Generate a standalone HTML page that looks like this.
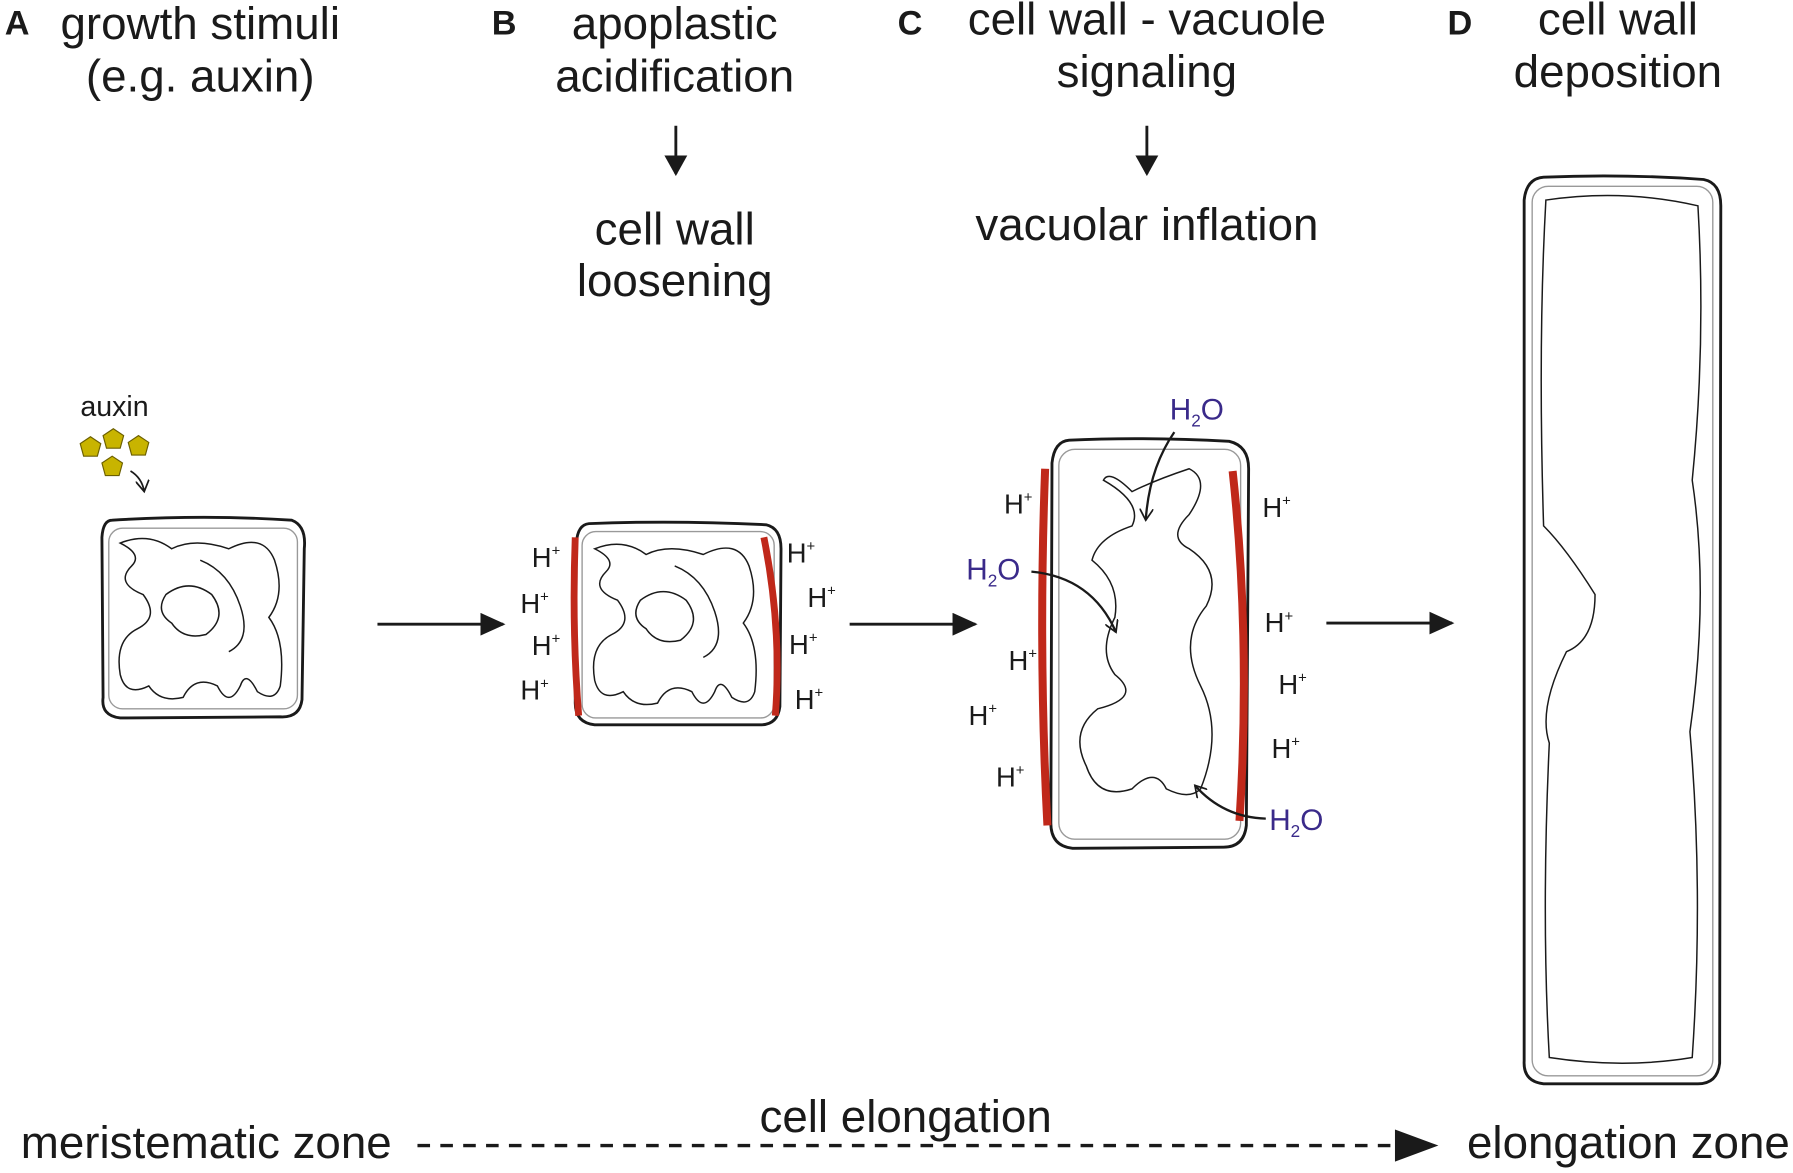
<!DOCTYPE html>
<html><head><meta charset="utf-8"><style>
html,body{margin:0;padding:0;background:#fff;}
svg{display:block;}
text{font-family:"Liberation Sans",sans-serif;fill:#1a1a1a;}
.h{font-size:40px;}
.hp{font-size:24px;}
.sup{font-size:13px;}
.w{fill:#3a2a8a;font-size:26px;}
</style></head><body>
<svg width="1793" height="1173" viewBox="0 0 1568 1026" xmlns="http://www.w3.org/2000/svg">
<defs>
<marker id="ar" markerWidth="18" markerHeight="20" refX="16" refY="10" orient="auto" markerUnits="userSpaceOnUse"><path d="M0,0 L18,10 L0,20 Z" fill="#1a1a1a"/></marker>
<marker id="big" markerWidth="22" markerHeight="20" refX="20" refY="10" orient="auto" markerUnits="userSpaceOnUse"><path d="M0,0 L22,10 L0,20 Z" fill="#1a1a1a"/></marker>
<marker id="sm" markerWidth="12" markerHeight="12" refX="10" refY="6" orient="auto" markerUnits="userSpaceOnUse"><path d="M0,0 L10,6 L0,12" fill="none" stroke="#1a1a1a" stroke-width="1.5"/></marker>
</defs>

<text x="4" y="30" font-weight="bold" style="font-size:30px">A</text>
<text x="175" y="34" class="h" text-anchor="middle">growth stimuli</text>
<text x="175" y="80" class="h" text-anchor="middle">(e.g. auxin)</text>
<text x="430" y="30" font-weight="bold" style="font-size:30px">B</text>
<text x="590" y="34" class="h" text-anchor="middle">apoplastic</text>
<text x="590" y="80" class="h" text-anchor="middle">acidification</text>
<line x1="591" y1="110" x2="591" y2="152" stroke="#1a1a1a" stroke-width="2.5" marker-end="url(#ar)"/>
<text x="590" y="214" class="h" text-anchor="middle">cell wall</text>
<text x="590" y="259" class="h" text-anchor="middle">loosening</text>
<text x="785" y="30" font-weight="bold" style="font-size:30px">C</text>
<text x="1003" y="30" class="h" text-anchor="middle">cell wall - vacuole</text>
<text x="1003" y="76" class="h" text-anchor="middle">signaling</text>
<line x1="1003" y1="110" x2="1003" y2="152" stroke="#1a1a1a" stroke-width="2.5" marker-end="url(#ar)"/>
<text x="1003" y="210" class="h" text-anchor="middle">vacuolar inflation</text>
<text x="1266" y="30" font-weight="bold" style="font-size:30px">D</text>
<text x="1415" y="30" class="h" text-anchor="middle">cell wall</text>
<text x="1415" y="76" class="h" text-anchor="middle">deposition</text>

<text x="100" y="364" text-anchor="middle" style="font-size:25px">auxin</text>
<g fill="#c8b400" stroke="#6b5f00" stroke-width="1">
<polygon points="79,382 88,388 85,399 73,399 70,388"/>
<polygon points="99,375 108,381 105,392 93,392 90,381"/>
<polygon points="121,381 130,387 127,398 115,398 112,387"/>
<polygon points="98,399 107,405 104,416 92,416 89,405"/>
</g>
<path d="M114,412 Q124,418 126,430" fill="none" stroke="#1a1a1a" stroke-width="1.5" marker-end="url(#sm)"/>

<path d="M98,455 Q180,450 255,455 Q268,460 266,480 L264,612 Q262,628 245,627 L105,628 Q88,626 90,610 L89,470 Q90,455 98,455 Z" fill="none" stroke="#1a1a1a" stroke-width="2.5"/>
<rect x="95" y="462" width="165" height="158" rx="12" fill="none" stroke="#999" stroke-width="1.2"/>
<path d="M105,475 Q130,465 150,480 Q170,470 200,480 Q230,465 240,490 Q250,520 235,540 Q250,560 245,600 Q240,615 225,605 Q215,585 210,600 Q200,620 190,600 Q170,590 160,610 Q140,615 130,600 Q110,610 105,590 Q100,560 120,550 Q140,540 125,520 Q100,510 115,495 Q125,485 105,475 Z M145,520 Q165,505 185,520 Q200,540 180,555 Q160,560 150,545 Q135,535 145,520 Z M175,490 Q200,500 210,530 Q220,560 200,570" fill="none" stroke="#1a1a1a" stroke-width="1.3"/>

<line x1="330" y1="546" x2="440" y2="546" stroke="#1a1a1a" stroke-width="2.5" marker-end="url(#big)"/>
<line x1="743" y1="546" x2="853" y2="546" stroke="#1a1a1a" stroke-width="2.5" marker-end="url(#big)"/>
<line x1="1160" y1="545" x2="1270" y2="545" stroke="#1a1a1a" stroke-width="2.5" marker-end="url(#big)"/>

<path d="M515,458 Q590,455 670,459 Q683,462 683,480 L682,618 Q680,634 665,634 L520,634 Q503,632 503,615 L504,475 Q505,459 515,458 Z" fill="none" stroke="#1a1a1a" stroke-width="2.5"/>
<rect x="509" y="465" width="168" height="163" rx="12" fill="none" stroke="#999" stroke-width="1.2"/>
<path d="M503,470 Q500,550 506,626" stroke="#c0281a" stroke-width="6" fill="none"/>
<path d="M668,470 Q684,550 678,626" stroke="#c0281a" stroke-width="6" fill="none"/>
<path d="M520,480 Q545,470 565,485 Q585,475 615,485 Q645,470 655,495 Q665,525 650,545 Q665,565 660,605 Q655,620 640,610 Q630,590 625,605 Q615,625 605,605 Q585,595 575,615 Q555,620 545,605 Q525,615 520,595 Q515,565 535,555 Q555,545 540,525 Q515,515 530,500 Q540,490 520,480 Z M560,525 Q580,510 600,525 Q615,545 595,560 Q575,565 565,550 Q550,540 560,525 Z M590,495 Q615,505 625,535 Q635,565 615,575" fill="none" stroke="#1a1a1a" stroke-width="1.3"/>
<g class="hp">
<text x="465" y="496">H<tspan class="sup" dy="-10">+</tspan></text>
<text x="455" y="536">H<tspan class="sup" dy="-10">+</tspan></text>
<text x="465" y="573">H<tspan class="sup" dy="-10">+</tspan></text>
<text x="455" y="612">H<tspan class="sup" dy="-10">+</tspan></text>
<text x="688" y="492">H<tspan class="sup" dy="-10">+</tspan></text>
<text x="706" y="531">H<tspan class="sup" dy="-10">+</tspan></text>
<text x="690" y="572">H<tspan class="sup" dy="-10">+</tspan></text>
<text x="695" y="620">H<tspan class="sup" dy="-10">+</tspan></text>
</g>

<path d="M935,385 Q1000,382 1075,386 Q1092,390 1092,410 L1090,722 Q1088,741 1070,741 L938,742 Q919,740 919,720 L920,405 Q922,386 935,385 Z" fill="none" stroke="#1a1a1a" stroke-width="2.5"/>
<rect x="926" y="393" width="159" height="341" rx="14" fill="none" stroke="#999" stroke-width="1.2"/>
<path d="M914,410 Q908,570 916,722" stroke="#c0281a" stroke-width="7" fill="none"/>
<path d="M1078,412 Q1094,560 1084,718" stroke="#c0281a" stroke-width="7" fill="none"/>
<path d="M965,420 Q1000,440 990,460 Q960,470 955,490 Q980,510 975,540 Q960,570 975,590 Q1000,610 960,620 Q935,640 950,670 Q960,700 990,690 Q1010,670 1020,690 Q1040,700 1050,690 Q1070,640 1050,600 Q1030,560 1055,530 Q1070,500 1040,480 Q1020,470 1040,450 Q1060,420 1040,410 Q1010,420 990,430 Q970,410 965,420 Z" fill="none" stroke="#1a1a1a" stroke-width="1.3"/>
<g class="hp">
<text x="878" y="449">H<tspan class="sup" dy="-10">+</tspan></text>
<text x="882" y="586">H<tspan class="sup" dy="-10">+</tspan></text>
<text x="847" y="634">H<tspan class="sup" dy="-10">+</tspan></text>
<text x="871" y="688">H<tspan class="sup" dy="-10">+</tspan></text>
<text x="1104" y="452">H<tspan class="sup" dy="-10">+</tspan></text>
<text x="1106" y="553">H<tspan class="sup" dy="-10">+</tspan></text>
<text x="1118" y="607">H<tspan class="sup" dy="-10">+</tspan></text>
<text x="1112" y="663">H<tspan class="sup" dy="-10">+</tspan></text>
</g>
<text x="1023" y="367" class="w">H<tspan dy="6" style="font-size:15px">2</tspan><tspan dy="-6">O</tspan></text>
<text x="845" y="507" class="w">H<tspan dy="6" style="font-size:15px">2</tspan><tspan dy="-6">O</tspan></text>
<text x="1110" y="726" class="w">H<tspan dy="6" style="font-size:15px">2</tspan><tspan dy="-6">O</tspan></text>
<path d="M1027,378 Q1005,410 1002,455" fill="none" stroke="#1a1a1a" stroke-width="2" marker-end="url(#sm)"/>
<path d="M902,500 Q955,505 976,553" fill="none" stroke="#1a1a1a" stroke-width="2" marker-end="url(#sm)"/>
<path d="M1107,716 Q1070,715 1045,687" fill="none" stroke="#1a1a1a" stroke-width="2" marker-end="url(#sm)"/>

<path d="M1350,155 Q1420,152 1490,157 Q1505,160 1505,180 L1504,930 Q1502,948 1485,948 L1350,948 Q1332,946 1333,928 L1333,175 Q1335,156 1350,155 Z" fill="none" stroke="#1a1a1a" stroke-width="2.5"/>
<rect x="1340" y="163" width="158" height="778" rx="14" fill="none" stroke="#999" stroke-width="1.2"/>
<path d="M1352,175 Q1420,165 1485,180 Q1492,300 1480,420 Q1495,520 1478,640 Q1490,780 1480,925 Q1420,935 1355,925 Q1348,800 1355,650 Q1345,620 1370,570 Q1395,560 1395,520 Q1370,480 1350,460 Q1345,300 1352,175 Z" fill="none" stroke="#1a1a1a" stroke-width="1.3"/>

<text x="18" y="1013" class="h">meristematic zone</text>
<text x="792" y="990" class="h" text-anchor="middle">cell elongation</text>
<line x1="365" y1="1002" x2="1235" y2="1002" stroke="#1a1a1a" stroke-width="3" stroke-dasharray="11,9"/>
<path d="M1220,988 L1258,1002 L1220,1016 Z" fill="#1a1a1a"/>
<text x="1283" y="1013" class="h">elongation zone</text>
</svg>
</body></html>
